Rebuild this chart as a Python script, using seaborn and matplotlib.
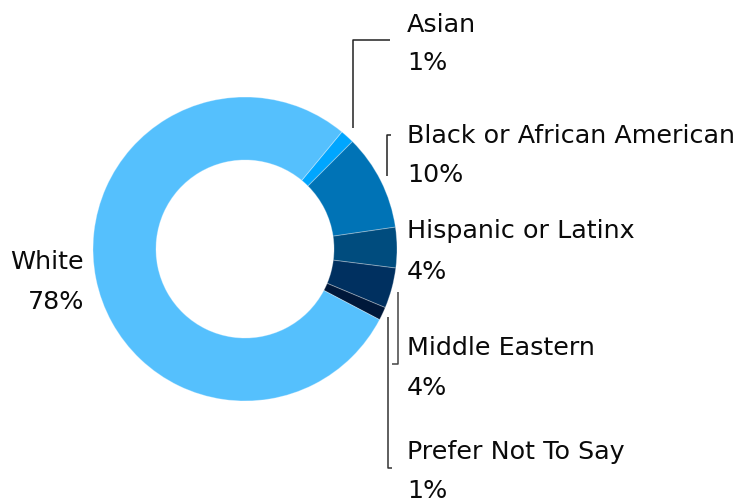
import math
import matplotlib
matplotlib.use("Agg")
import matplotlib.pyplot as plt
import seaborn as sns

# Survey shares by ethnicity (percent of respondents)
groups = ["Asian", "Black or African American", "Hispanic or Latinx",
          "Middle Eastern", "Prefer Not To Say", "White"]
shares = [1.5, 10.2, 4.3, 4.3, 1.4, 78.3]
colors = ["#00A6FF", "#0073B6", "#004C7E", "#003060", "#00183A", "#55C0FD"]

sns.set_theme(style="white")
plt.rcParams["font.family"] = ["DejaVu Sans"]

W, H = 752, 504
fig = plt.figure(figsize=(W / 100, H / 100), dpi=100)
ax = fig.add_axes([0, 0, 1, 1])

# donut geometry in pixel units (y measured from the bottom)
cx, cy, R, r_in = 245, H - 249, 152, 89

ax.pie(
    shares, colors=sns.color_palette(colors), startangle=50.4, counterclock=False,
    center=(cx, cy), radius=R, frame=True,
    wedgeprops=dict(width=R - r_in, edgecolor=(1, 1, 1, 0.3), linewidth=0.7),
)
ax.set_xlim(0, W)
ax.set_ylim(0, H)
ax.set_aspect("equal")
ax.axis("off")

fs = 18.3
txt = "#0a0a0a"


def label(x, y_name, y_pct, name, value, ha="left"):
    ax.text(x, H - y_name, name, ha=ha, va="baseline", fontsize=fs, color=txt)
    ax.text(x, H - y_pct, f"{math.floor(value)}%", ha=ha, va="baseline",
            fontsize=fs, color=txt)


# right-hand labels: (name baseline, percent baseline)
right_rows = [(32, 70), (143, 182), (238, 279), (355, 395), (459, 498)]
for (yn, yp), name, val in zip(right_rows, groups[:5], shares[:5]):
    label(407, yn, yp, name, val)

# left label for the largest group
label(84, 269, 309, groups[5], shares[5], ha="right")


def leader(points, color="#222222"):
    xs = [p[0] for p in points]
    ys = [H - p[1] for p in points]
    ax.plot(xs, ys, color=color, lw=1.1, solid_capstyle="butt")


leader([(353, 128), (353, 40), (390, 40)])
leader([(391, 135), (387, 135), (387, 176)])
leader([(398, 292), (398, 364), (392, 364)], color="#444444")
leader([(388, 317), (388, 468), (392, 468)], color="#333333")

fig.savefig("out.png", dpi=100)
